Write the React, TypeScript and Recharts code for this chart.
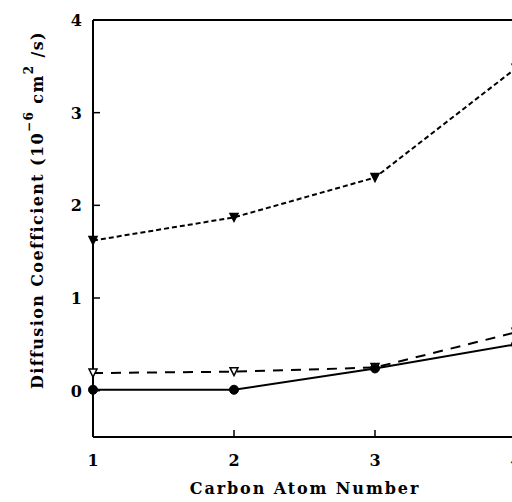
import React from 'react';
import { LineChart, Line, XAxis, YAxis, ReferenceLine } from 'recharts';

const carbonNumbers = [1, 2, 3, 4];
const seriesFilledTriangle = [1.62, 1.87, 2.3, 3.48];
const seriesOpenTriangle = [0.19, 0.205, 0.25, 0.63];
const seriesFilledCircle = [0.01, 0.01, 0.24, 0.5];
const xTicks = [1, 2, 3, 4];
const yTicks = [0, 1, 2, 3, 4];

const data = carbonNumbers.map((c, i) => ({
  c,
  a: seriesFilledTriangle[i],
  b: seriesOpenTriangle[i],
  d: seriesFilledCircle[i],
}));

const FONT = '"DejaVu Serif", serif';

const YTick = (props: any) => {
  const { x, y, payload } = props;
  return (
    <g>
      <line x1={x} x2={x + 7} y1={y} y2={y} stroke="#000" strokeWidth={1.5} />
      <text x={x - 11} y={y + 6} textAnchor="end" fontFamily={FONT} fontWeight="bold" fontSize={16} fill="#000">
        {payload.value}
      </text>
    </g>
  );
};

const XTick = (props: any) => {
  const { x, y, payload } = props;
  return (
    <g>
      <line x1={x} x2={x} y1={y} y2={y - 7} stroke="#000" strokeWidth={1.5} />
      <text x={x} y={y + 29} textAnchor="middle" fontFamily={FONT} fontWeight="bold" fontSize={16} fill="#000">
        {payload.value}
      </text>
    </g>
  );
};

const triDown = (filled: boolean) => (p: any) => {
  const { cx, cy, index } = p;
  if (cx == null || cy == null) return <g key={index} />;
  const d = `M${cx - 4},${cy - 4} L${cx + 4},${cy - 4} L${cx},${cy + 4} Z`;
  return (
    <path key={index} d={d} fill={filled ? '#000' : '#fff'} stroke="#000" strokeWidth={1.5} />
  );
};

const circleDot = (p: any) => {
  const { cx, cy, index } = p;
  return <circle key={index} cx={cx} cy={cy} r={4.5} fill="#000" stroke="#000" />;
};

const YLabel = () => (
  <text
    transform="rotate(-90, 43, 210)"
    x={43}
    y={210}
    textAnchor="middle"
    fontFamily={FONT}
    fontWeight="bold"
    fontSize={16}
    letterSpacing={1.4}
    fill="#000"
  >
    <tspan>Diffusion Coefficient (10</tspan>
    <tspan fontSize={12} dy={-10}>−6</tspan>
    <tspan dy={10}> cm</tspan>
    <tspan fontSize={12} dy={-10}>2</tspan>
    <tspan dy={10}> /s)</tspan>
  </text>
);

export default function App() {
  return (
    <div style={{ position: 'fixed', left: 0, top: 0, width: 512, height: 502, overflow: 'hidden', background: '#fff' }}>
      <LineChart width={550} height={502} data={data} margin={{ top: 20, right: 34, bottom: 0, left: 0 }}>
        <XAxis
          dataKey="c"
          type="number"
          domain={[1, 4]}
          ticks={xTicks}
          height={65}
          tickSize={0}
          tickMargin={0}
          tick={<XTick />}
          axisLine={{ stroke: '#000', strokeWidth: 2 }}
          tickLine={false}
          label={{
            content: () => (
              <text x={305} y={494} textAnchor="middle" fontFamily={FONT} fontWeight="bold" fontSize={16} letterSpacing={1.9} fill="#000">
                Carbon Atom Number
              </text>
            ),
          }}
        />
        <YAxis
          type="number"
          domain={[-0.5, 4]}
          ticks={yTicks}
          width={93}
          tickSize={0}
          tickMargin={0}
          tick={<YTick />}
          axisLine={{ stroke: '#000', strokeWidth: 2 }}
          tickLine={false}
          label={{ content: () => <YLabel /> }}
        />
        <ReferenceLine y={4} stroke="#000" strokeWidth={2} />
        <ReferenceLine x={4} stroke="#000" strokeWidth={2} />
        <Line dataKey="a" stroke="#000" strokeWidth={2} strokeDasharray="5 3" dot={triDown(true)} isAnimationActive={false} />
        <Line dataKey="b" stroke="#000" strokeWidth={2} strokeDasharray="10 8" dot={triDown(false)} isAnimationActive={false} />
        <Line dataKey="d" stroke="#000" strokeWidth={2} dot={circleDot} isAnimationActive={false} />
      </LineChart>
    </div>
  );
}
